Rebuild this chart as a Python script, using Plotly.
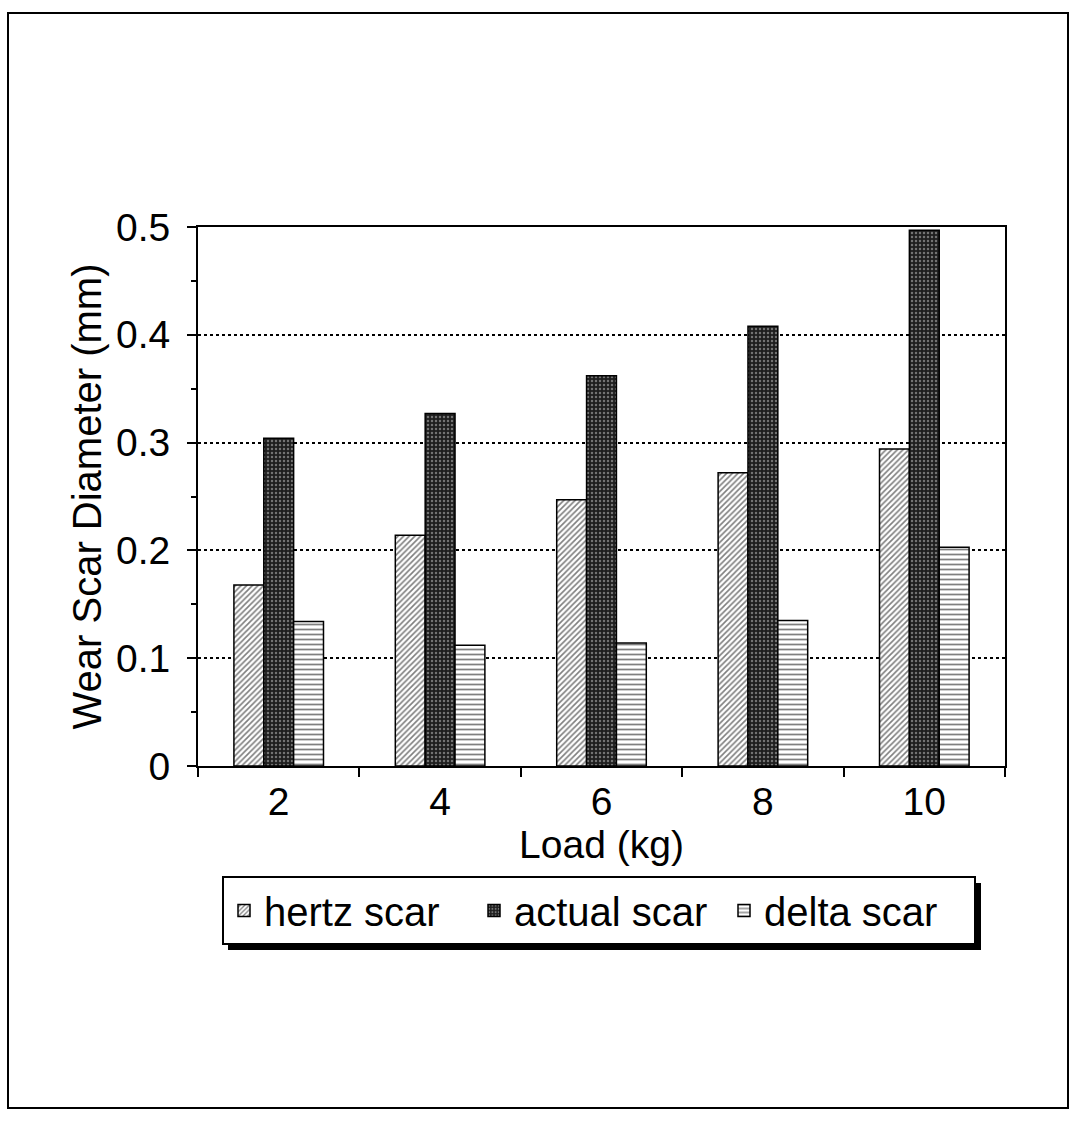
import plotly.graph_objects as go

loads = ["2", "4", "6", "8", "10"]
hertz_scar = [0.168, 0.214, 0.247, 0.272, 0.294]
actual_scar = [0.304, 0.327, 0.362, 0.408, 0.497]
delta_scar = [0.134, 0.112, 0.114, 0.135, 0.203]

FONT = "Liberation Sans, Arial, sans-serif"
W, H = 1073, 1121
L, R, T, B = 198, 68, 227, 355
pw, ph = W - L - R, H - T - B


def px_x(x):
    return (x - L) / pw


def px_y(y):
    return (H - B - y) / ph


fig = go.Figure()
fig.add_trace(go.Bar(
    x=loads, y=hertz_scar, name="hertz scar",
    marker=dict(color="white", line=dict(color="black", width=1.5),
                pattern=dict(shape="/", fgcolor="black", bgcolor="white",
                             size=4, solidity=0.4)),
))
fig.add_trace(go.Bar(
    x=loads, y=actual_scar, name="actual scar",
    marker=dict(color="#222222", line=dict(color="black", width=1.5),
                pattern=dict(shape=".", fgcolor="#c8c8c8", bgcolor="#1e1e1e",
                             size=4, solidity=0.3)),
))
fig.add_trace(go.Bar(
    x=loads, y=delta_scar, name="delta scar",
    marker=dict(color="white", line=dict(color="black", width=1.5),
                pattern=dict(shape="-", fgcolor="black", bgcolor="white",
                             size=5, solidity=0.35)),
))

# outer frame around the whole figure
fig.add_shape(type="rect", xref="paper", yref="paper",
              x0=px_x(8), x1=px_x(1068), y0=px_y(1108), y1=px_y(13),
              line=dict(color="black", width=2), fillcolor="rgba(0,0,0,0)",
              layer="below")
# drop shadow under the legend box (the legend itself is drawn on top)
fig.add_shape(type="rect", xref="paper", yref="paper",
              x0=px_x(228), x1=px_x(981), y0=px_y(950), y1=px_y(883),
              line=dict(width=0), fillcolor="black", layer="above")

fig.update_layout(
    width=W, height=H,
    margin=dict(l=L, r=R, t=T, b=B),
    paper_bgcolor="white", plot_bgcolor="white",
    barmode="group", bargap=0.445, bargroupgap=0,
    font=dict(family=FONT, size=39, color="black"),
    showlegend=True,
    legend=dict(orientation="h", x=px_x(222), y=px_y(876),
                xanchor="left", yanchor="top",
                bgcolor="white", bordercolor="black", borderwidth=2,
                font=dict(family=FONT, size=40, color="black"),
                itemwidth=30, tracegroupgap=0,
                entrywidthmode="pixels", entrywidth=205),
    xaxis=dict(
        title=dict(text="Load (kg)", font=dict(family=FONT, size=39), standoff=0),
        showline=True, linecolor="black", linewidth=2, mirror=True,
        ticks="outside", ticklen=9, tickwidth=1.5, tickcolor="black",
        tickson="boundaries", showgrid=False,
        tickfont=dict(family=FONT, size=39),
    ),
    yaxis=dict(
        title=dict(text="Wear Scar Diameter (mm)", font=dict(family=FONT, size=40),
                   standoff=2),
        range=[0, 0.5],
        tickvals=[0, 0.1, 0.2, 0.3, 0.4, 0.5],
        ticktext=["0", "0.1", "0.2", "0.3", "0.4", "0.5"],
        showline=True, linecolor="black", linewidth=2, mirror=True,
        ticks="outside", ticklen=9, tickwidth=1.5, tickcolor="black",
        ticklabelstandoff=9,
        showgrid=True, gridcolor="black", gridwidth=1.5, griddash="dot",
        zeroline=False,
        minor=dict(tickvals=[0.05, 0.15, 0.25, 0.35, 0.45], ticks="outside",
                   ticklen=5, tickcolor="black", tickwidth=1.5, showgrid=False),
        tickfont=dict(family=FONT, size=39),
    ),
)

fig.write_html("out.html")
